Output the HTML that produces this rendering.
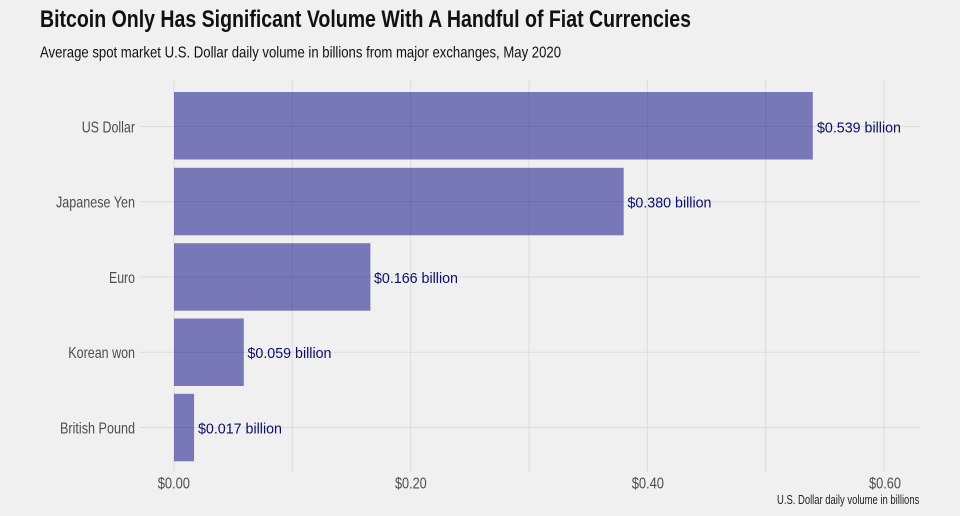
<!DOCTYPE html>
<html>
<head>
<meta charset="utf-8">
<style>
html,body{margin:0;padding:0;background:#f0f0f0;}
svg{display:block;}
text{font-family:"Liberation Sans Narrow","Liberation Sans",sans-serif;}
</style>
</head>
<body>
<svg width="960" height="516" viewBox="0 0 960 516" xmlns="http://www.w3.org/2000/svg">
<rect x="0" y="0" width="960" height="516" fill="#f0f0f0"/>
<!-- title -->
<text x="40" y="27" font-size="24" font-weight="bold" fill="#111" textLength="651" lengthAdjust="spacingAndGlyphs">Bitcoin Only Has Significant Volume With A Handful of Fiat Currencies</text>
<text x="40" y="57.3" font-size="16" fill="#111" textLength="521" lengthAdjust="spacingAndGlyphs">Average spot market U.S. Dollar daily volume in billions from major exchanges, May 2020</text>

<!-- gridlines -->
<g stroke="#dcdcdc" stroke-width="1">
<line x1="174" y1="80" x2="174" y2="472"/>
<line x1="292.3" y1="80" x2="292.3" y2="472"/>
<line x1="410.7" y1="80" x2="410.7" y2="472"/>
<line x1="529" y1="80" x2="529" y2="472"/>
<line x1="647.3" y1="80" x2="647.3" y2="472"/>
<line x1="765.7" y1="80" x2="765.7" y2="472"/>
<line x1="884" y1="80" x2="884" y2="472"/>
<line x1="140" y1="126.5" x2="920" y2="126.5"/>
<line x1="140" y1="201.8" x2="920" y2="201.8"/>
<line x1="140" y1="277" x2="920" y2="277"/>
<line x1="140" y1="352.3" x2="920" y2="352.3"/>
<line x1="140" y1="427.5" x2="920" y2="427.5"/>
</g>

<!-- bars -->
<g fill="#000080" fill-opacity="0.5">
<rect x="174" y="92" width="638.8" height="67.5"/>
<rect x="174" y="167.8" width="449.7" height="67.5"/>
<rect x="174" y="243.2" width="196.4" height="67.5"/>
<rect x="174" y="318.5" width="69.8" height="67.5"/>
<rect x="174" y="393.8" width="20.1" height="67.5"/>
</g>

<!-- value labels -->
<g font-size="14.5" fill="#0b0e68">
<text x="817" y="132.5" textLength="84" lengthAdjust="spacingAndGlyphs" style="font-family:'Liberation Sans',sans-serif">$0.539 billion</text>
<text x="627.5" y="207.7" textLength="84" lengthAdjust="spacingAndGlyphs" style="font-family:'Liberation Sans',sans-serif">$0.380 billion</text>
<text x="374" y="283" textLength="84" lengthAdjust="spacingAndGlyphs" style="font-family:'Liberation Sans',sans-serif">$0.166 billion</text>
<text x="247.5" y="358.2" textLength="84" lengthAdjust="spacingAndGlyphs" style="font-family:'Liberation Sans',sans-serif">$0.059 billion</text>
<text x="198" y="433.5" textLength="84" lengthAdjust="spacingAndGlyphs" style="font-family:'Liberation Sans',sans-serif">$0.017 billion</text>
</g>

<!-- y labels -->
<g font-size="16" fill="#4d4d4d">
<text x="81.7" y="132.3" textLength="53.3" lengthAdjust="spacingAndGlyphs">US Dollar</text>
<text x="56" y="207.5" textLength="79" lengthAdjust="spacingAndGlyphs">Japanese Yen</text>
<text x="109" y="282.8" textLength="26" lengthAdjust="spacingAndGlyphs">Euro</text>
<text x="68.3" y="358" textLength="66.7" lengthAdjust="spacingAndGlyphs">Korean won</text>
<text x="60" y="433.3" textLength="75" lengthAdjust="spacingAndGlyphs">British Pound</text>
</g>

<!-- x tick labels -->
<g font-size="16" fill="#4d4d4d">
<text x="157.7" y="488.3" textLength="32.3" lengthAdjust="spacingAndGlyphs">$0.00</text>
<text x="395" y="488.3" textLength="31.7" lengthAdjust="spacingAndGlyphs">$0.20</text>
<text x="631.7" y="488.3" textLength="32.3" lengthAdjust="spacingAndGlyphs">$0.40</text>
<text x="869" y="488.3" textLength="32" lengthAdjust="spacingAndGlyphs">$0.60</text>
</g>

<!-- x axis title -->
<text x="777" y="504" font-size="12.5" fill="#222" textLength="142.3" lengthAdjust="spacingAndGlyphs">U.S. Dollar daily volume in billions</text>
</svg>
</body>
</html>
